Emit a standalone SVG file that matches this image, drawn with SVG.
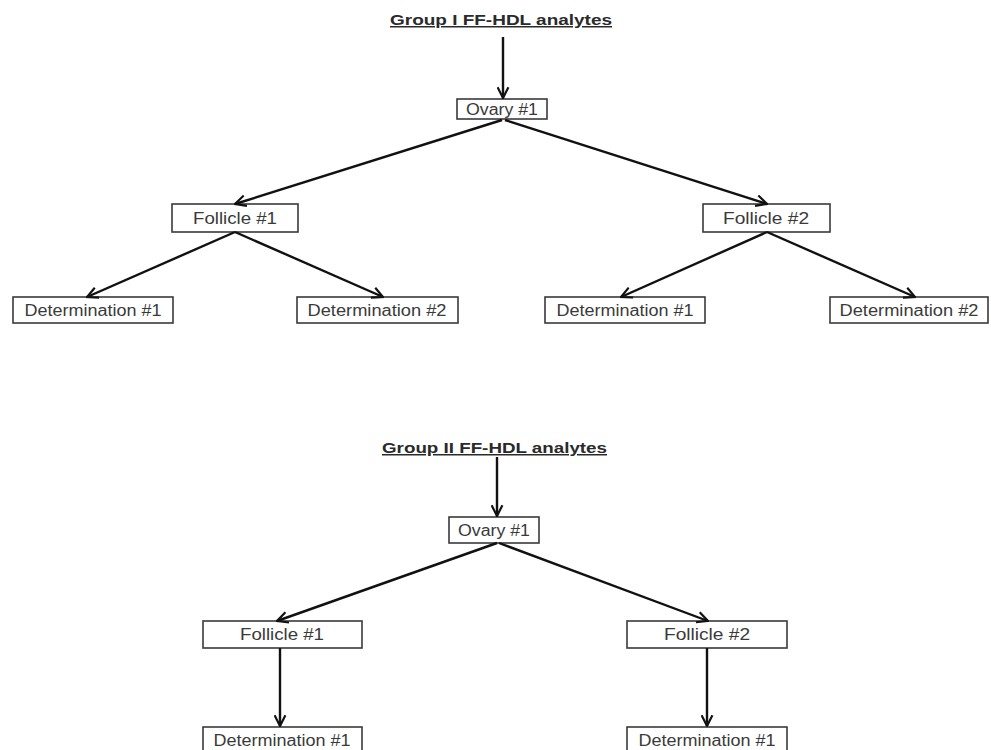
<svg xmlns="http://www.w3.org/2000/svg" width="991" height="750" viewBox="0 0 991 750">
<style>
  .box{fill:#fff;stroke:#3a3a3a;stroke-width:1.6}
  .lbl{font-family:"Liberation Sans",Arial,sans-serif;font-size:16px;fill:#3a3a3a;text-anchor:middle}
  .ttl{font-family:"Liberation Sans",Arial,sans-serif;font-size:15px;font-weight:bold;fill:#2a2a2a;text-anchor:middle;text-decoration:underline}
  .arr{stroke:#111;stroke-width:2.4;fill:none;marker-end:url(#ah)}
</style>
<defs>
  <marker id="ah" viewBox="0 0 12 12" refX="11" refY="6" markerWidth="13" markerHeight="13" markerUnits="userSpaceOnUse" orient="auto">
    <path d="M1,1 L11,6 L1,11" fill="none" stroke="#111" stroke-width="2"/>
  </marker>
</defs>
<rect width="991" height="750" fill="#fff"/>

<g id="title1"><text class="ttl" x="501" y="25" textLength="222" lengthAdjust="spacingAndGlyphs">Group I FF-HDL analytes</text></g>
<g id="ovary1"><rect class="box" x="457" y="99" width="90" height="20"/><text class="lbl" x="502" y="115" textLength="72" lengthAdjust="spacingAndGlyphs">Ovary #1</text></g>
<g id="foll1a"><rect class="box" x="172" y="204" width="126" height="28"/><text class="lbl" x="235" y="224" textLength="84" lengthAdjust="spacingAndGlyphs">Follicle #1</text></g>
<g id="foll2a"><rect class="box" x="703" y="204" width="127" height="28"/><text class="lbl" x="766" y="224" textLength="86" lengthAdjust="spacingAndGlyphs">Follicle #2</text></g>
<g id="det1a"><rect class="box" x="13" y="297" width="160" height="26"/><text class="lbl" x="93" y="316" textLength="137" lengthAdjust="spacingAndGlyphs">Determination #1</text></g>
<g id="det2a"><rect class="box" x="297" y="297" width="161" height="26"/><text class="lbl" x="377" y="316" textLength="139" lengthAdjust="spacingAndGlyphs">Determination #2</text></g>
<g id="det1b"><rect class="box" x="545" y="297" width="160" height="26"/><text class="lbl" x="625" y="316" textLength="137" lengthAdjust="spacingAndGlyphs">Determination #1</text></g>
<g id="det2b"><rect class="box" x="830" y="297" width="158" height="26"/><text class="lbl" x="909" y="316" textLength="139" lengthAdjust="spacingAndGlyphs">Determination #2</text></g>

<g id="title2"><text class="ttl" x="494.5" y="453" textLength="225" lengthAdjust="spacingAndGlyphs">Group II FF-HDL analytes</text></g>
<g id="ovary2"><rect class="box" x="449" y="517" width="90" height="26"/><text class="lbl" x="494" y="536" textLength="72" lengthAdjust="spacingAndGlyphs">Ovary #1</text></g>
<g id="foll1c"><rect class="box" x="203" y="621" width="159" height="27"/><text class="lbl" x="282" y="640" textLength="84" lengthAdjust="spacingAndGlyphs">Follicle #1</text></g>
<g id="foll2c"><rect class="box" x="627" y="621" width="160" height="27"/><text class="lbl" x="707" y="640" textLength="86" lengthAdjust="spacingAndGlyphs">Follicle #2</text></g>
<g id="det1c"><rect class="box" x="203" y="727" width="159" height="30"/><text class="lbl" x="282" y="746" textLength="137" lengthAdjust="spacingAndGlyphs">Determination #1</text></g>
<g id="det1d"><rect class="box" x="627" y="727" width="160" height="30"/><text class="lbl" x="707" y="746" textLength="137" lengthAdjust="spacingAndGlyphs">Determination #1</text></g>

<g id="connectors">
  <line class="arr" x1="503" y1="37" x2="503" y2="98"/>
  <line class="arr" x1="502" y1="120" x2="235" y2="204"/>
  <line class="arr" x1="505" y1="120" x2="767" y2="204"/>
  <line class="arr" x1="235" y1="232" x2="87" y2="297"/>
  <line class="arr" x1="235" y1="232" x2="383" y2="297"/>
  <line class="arr" x1="767" y1="232" x2="621" y2="297"/>
  <line class="arr" x1="767" y1="232" x2="915" y2="297"/>
  <line class="arr" x1="497" y1="457" x2="497" y2="516"/>
  <line class="arr" x1="497" y1="543" x2="277" y2="621"/>
  <line class="arr" x1="499" y1="543" x2="708" y2="621"/>
  <line class="arr" x1="280" y1="648" x2="280" y2="726"/>
  <line class="arr" x1="707" y1="648" x2="707" y2="726"/>
</g>
</svg>
